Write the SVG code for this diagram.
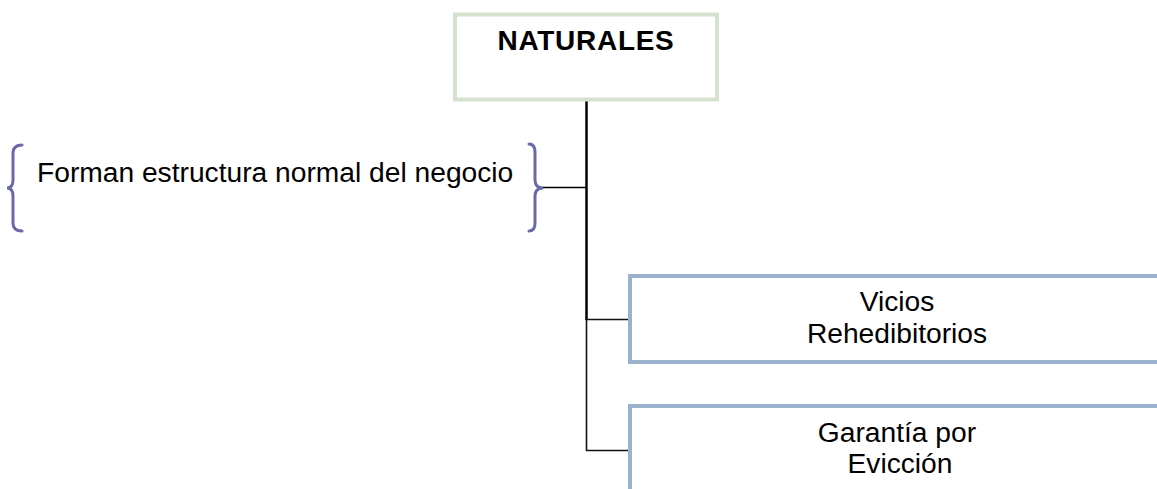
<svg xmlns="http://www.w3.org/2000/svg" width="1157" height="489" viewBox="0 0 1157 489">
<style>
.t{font-family:"Liberation Sans",Arial,sans-serif;font-size:28.2px;fill:#000}
.b{font-weight:bold;font-size:28px;letter-spacing:0.7px}
.brace{fill:none;stroke:#6a6aa8;stroke-width:3;stroke-linecap:round}
.box2{fill:#fff;stroke:#9bb2cd;stroke-width:4}
</style>
<rect width="1157" height="489" fill="#fff"/>
<g id="connectors" fill="none">
  <line x1="586.5" y1="100" x2="586.5" y2="320" stroke="#000" stroke-width="2.5"/>
  <line x1="586.5" y1="319" x2="586.5" y2="451" stroke="#111" stroke-width="1.6"/>
  <line x1="543" y1="187.5" x2="587" y2="187.5" stroke="#000" stroke-width="1.6"/>
  <line x1="586" y1="319.5" x2="628" y2="319.5" stroke="#111" stroke-width="1.6"/>
  <line x1="586" y1="450.5" x2="628" y2="450.5" stroke="#111" stroke-width="1.6"/>
</g>
<g id="node-naturales">
  <rect x="455" y="14.5" width="262" height="85" fill="#fff" stroke="#d4e2cf" stroke-width="4"/>
  <text class="t b" x="586" y="50" text-anchor="middle">NATURALES</text>
</g>
<g id="node-forman">
  <path class="brace" d="M22,145 Q13,145 13,153 L13,180 Q13,188 7,188 Q13,188 13,196 L13,223 Q13,231 22,231"/>
  <text class="t" x="37" y="182">Forman estructura normal del negocio</text>
  <path class="brace" d="M529,144 Q535,144 535,152 L535,180 Q535,188 543,188 Q535,188 535,196 L535,223 Q535,231 529,231"/>
</g>
<g id="node-vicios">
  <rect class="box2" x="630" y="276" width="540" height="86"/>
  <text class="t" x="897" y="311" text-anchor="middle">Vicios</text>
  <text class="t" x="897" y="343" text-anchor="middle">Rehedibitorios</text>
</g>
<g id="node-garantia">
  <rect class="box2" x="630" y="406" width="540" height="100"/>
  <text class="t" x="897" y="442" text-anchor="middle">Garantía por</text>
  <text class="t" x="900" y="473" text-anchor="middle">Evicción</text>
</g>
</svg>
